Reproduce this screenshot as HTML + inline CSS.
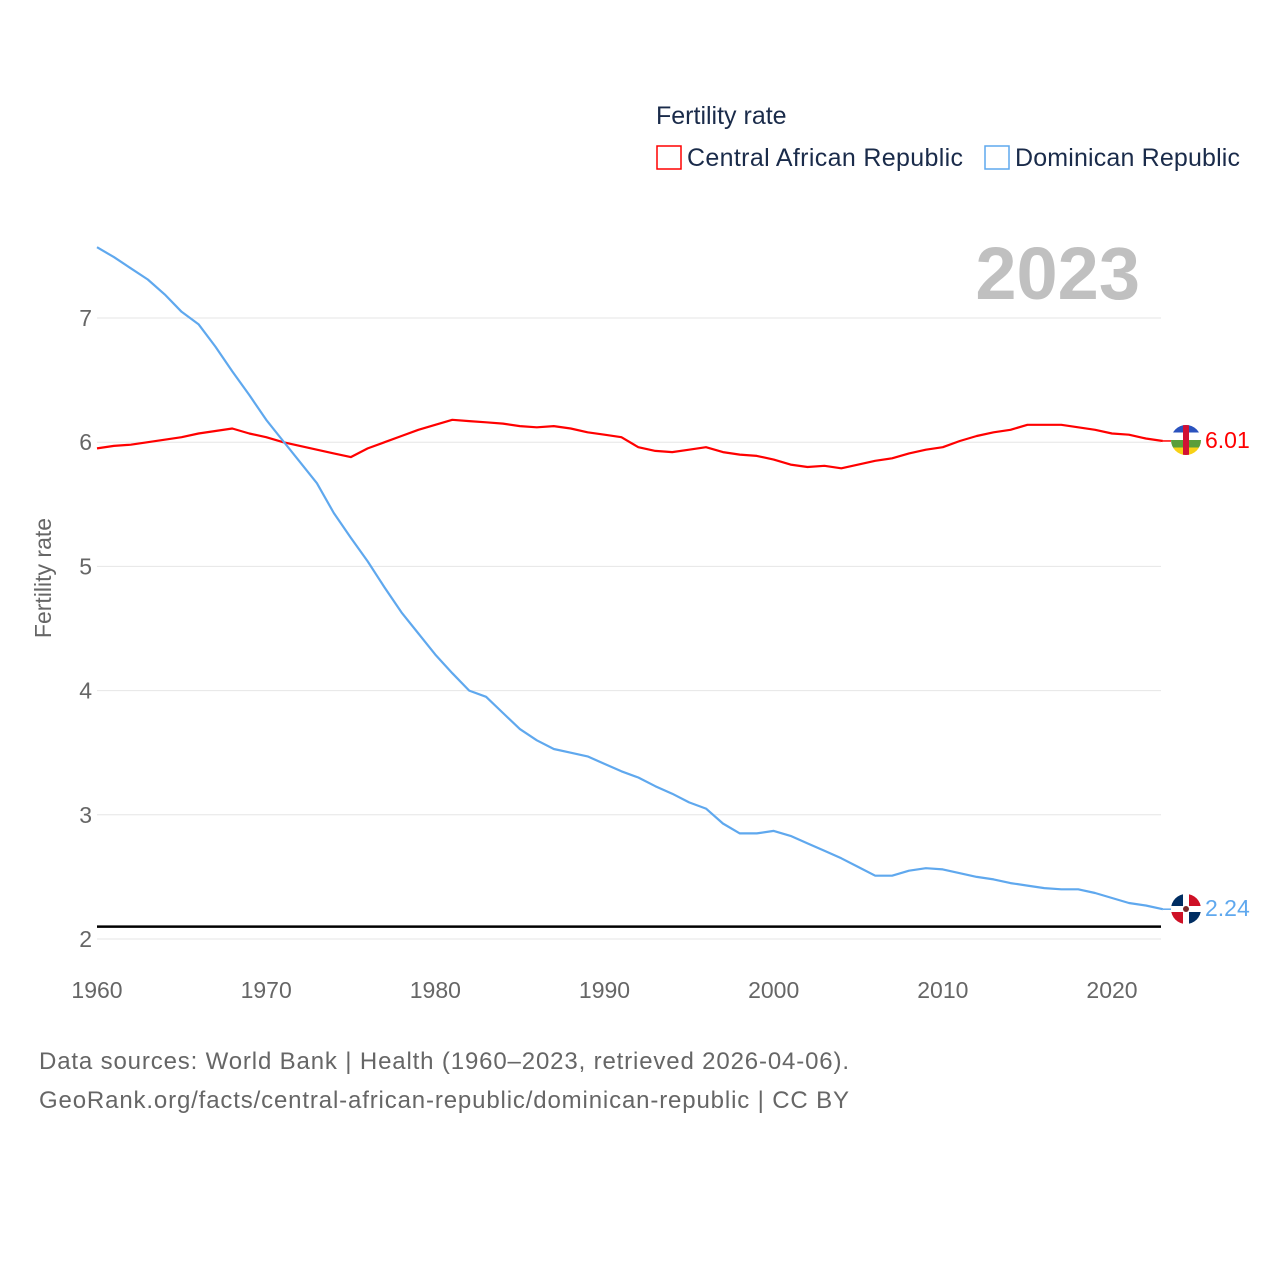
<!DOCTYPE html>
<html><head><meta charset="utf-8"><style>
body{margin:0;background:#fff;width:1280px;height:1280px;overflow:hidden;font-family:"Liberation Sans",sans-serif}
</style></head><body>
<svg id="chart" width="1280" height="1280" xmlns="http://www.w3.org/2000/svg" font-family="Liberation Sans, sans-serif">
<defs>
<clipPath id="c1"><circle cx="1186" cy="440" r="15"/></clipPath>
<clipPath id="c2"><circle cx="1186" cy="909" r="15"/></clipPath>
</defs>
<text x="656" y="124" font-size="25" fill="#1a2b4a">Fertility rate</text>
<rect x="657" y="146" width="24" height="23" fill="none" stroke="#f00" stroke-width="1.5"/>
<text x="687" y="166" font-size="25" fill="#1a2b4a" textLength="276">Central African Republic</text>
<rect x="985" y="146" width="24" height="23" fill="none" stroke="#5fa8ee" stroke-width="1.5"/>
<text x="1015" y="166" font-size="25" fill="#1a2b4a" textLength="225">Dominican Republic</text>
<text x="1140" y="299" font-size="74" font-weight="bold" fill="#c0c0c0" text-anchor="end">2023</text>
<text transform="translate(51,578) rotate(-90)" font-size="23" fill="#666" text-anchor="middle">Fertility rate</text>
<g id="grid"></g><g id="series"></g>
<g clip-path="url(#c1)">
<rect x="1171" y="425" width="30" height="7.5" fill="#2a52be"/><rect x="1171" y="432.5" width="30" height="7.5" fill="#fff"/>
<rect x="1171" y="440" width="30" height="7.5" fill="#5a9e3a"/><rect x="1171" y="447.5" width="30" height="7.5" fill="#f7d116"/>
<rect x="1183" y="425" width="6" height="30" fill="#d21034"/></g>
<text x="1205" y="448" font-size="23" fill="#f00">6.01</text>
<g clip-path="url(#c2)">
<rect x="1171" y="894" width="30" height="30" fill="#fff"/>
<rect x="1171" y="894" width="12" height="12" fill="#002d62"/><rect x="1189" y="912" width="12" height="12" fill="#002d62"/>
<rect x="1189" y="894" width="12" height="12" fill="#ce1126"/><rect x="1171" y="912" width="12" height="12" fill="#ce1126"/>
<circle cx="1186" cy="909" r="3" fill="#7a2a2a"/></g>
<text x="1205" y="916" font-size="23" fill="#5fa8ee">2.24</text>
<text x="39" y="1069" font-size="24" fill="#666" textLength="810">Data sources: World Bank | Health (1960–2023, retrieved 2026-04-06).</text>
<text x="39" y="1108" font-size="24" fill="#666" textLength="810">GeoRank.org/facts/central-african-republic/dominican-republic | CC BY</text>
</svg>
<script>
const years=[];for(let y=1960;y<=2023;y++)years.push(y);
const yTicks=[2,3,4,5,6,7];
const xTicks=[1960,1970,1980,1990,2000,2010,2020];
const replacementRate=2.1;
const carValues=[5.95,5.97,5.98,6.00,6.02,6.04,6.07,6.09,6.11,6.07,6.04,6.00,5.97,5.94,5.91,5.88,5.95,6.00,6.05,6.10,6.14,6.18,6.17,6.16,6.15,6.13,6.12,6.13,6.11,6.08,6.06,6.04,5.96,5.93,5.92,5.94,5.96,5.92,5.90,5.89,5.86,5.82,5.80,5.81,5.79,5.82,5.85,5.87,5.91,5.94,5.96,6.01,6.05,6.08,6.10,6.14,6.14,6.14,6.12,6.10,6.07,6.06,6.03,6.01];
const drValues=[7.57,7.49,7.40,7.31,7.19,7.05,6.95,6.77,6.57,6.38,6.18,6.01,5.84,5.67,5.43,5.23,5.04,4.83,4.63,4.46,4.29,4.14,4.00,3.95,3.82,3.69,3.60,3.53,3.50,3.47,3.41,3.35,3.30,3.23,3.17,3.10,3.05,2.93,2.85,2.85,2.87,2.83,2.77,2.71,2.65,2.58,2.51,2.51,2.55,2.57,2.56,2.53,2.50,2.48,2.45,2.43,2.41,2.40,2.40,2.37,2.33,2.29,2.27,2.24];
const NS="http://www.w3.org/2000/svg";
const X=y=>97+(y-1960)*(1112-97)/60;
const Y=v=>939-(v-2)*(939-318)/5;
const grid=document.getElementById('grid'),series=document.getElementById('series');
function mk(tag,attrs,parent){const e=document.createElementNS(NS,tag);for(const k in attrs)e.setAttribute(k,attrs[k]);parent.appendChild(e);return e;}
yTicks.forEach(t=>{
 const l=mk('line',{x1:97,x2:1161,y1:Y(t),y2:Y(t),stroke:'#e6e6e6','stroke-width':1},grid);
 
 
 const tx=mk('text',{x:92,y:Y(t)+8,'font-size':23,fill:'#666','text-anchor':'end'},grid);tx.textContent=t;
 
 
});
xTicks.forEach(t=>{
 const tx=mk('text',{x:X(t),y:998,'font-size':23,fill:'#666','text-anchor':'middle'},grid);tx.textContent=t;
 
 
});
const rl=mk('line',{x1:97,x2:1161,y1:Y(replacementRate),y2:Y(replacementRate),stroke:'#000','stroke-width':2.5},series);


function line(vals,color,name){
 const d=vals.map((v,i)=>(i?'L':'M')+X(years[i]).toFixed(1)+' '+Y(v).toFixed(1)).join(' ');
 const p=mk('path',{d:d,fill:'none',stroke:color,'stroke-width':2.2,'stroke-linejoin':'round'},series);
 
 
 const last=vals[vals.length-1];
 mk('line',{x1:X(2023),x2:1171,y1:Y(last),y2:Y(last),stroke:color,'stroke-width':1.5},series);
}
line(carValues,'#f00','line-central-african-republic');
line(drValues,'#5fa8ee','line-dominican-republic');
</script>
</body></html>
